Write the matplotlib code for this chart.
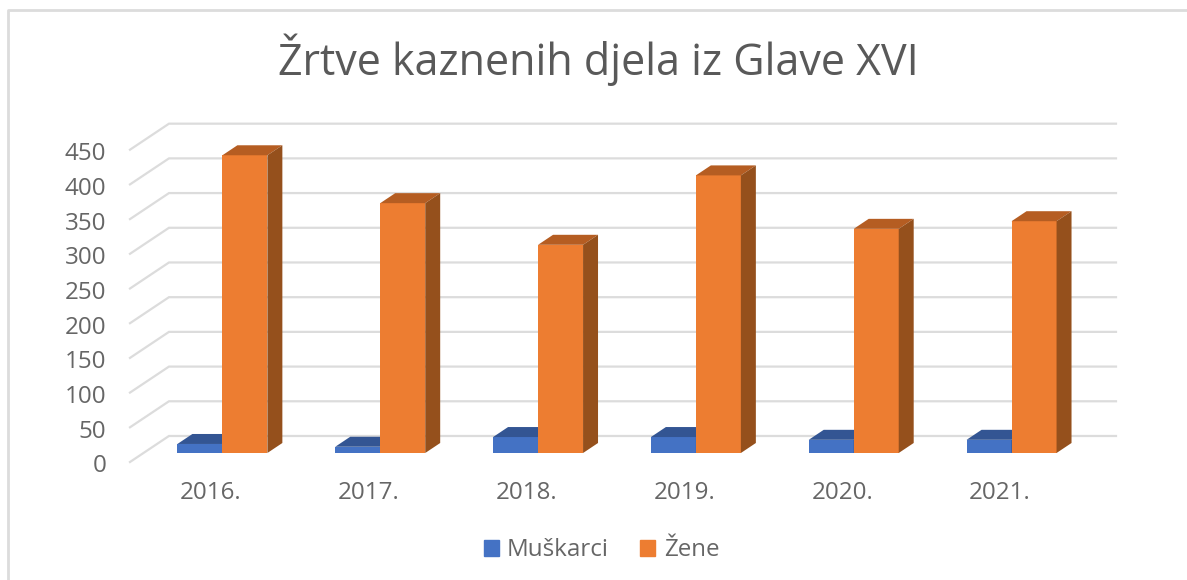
import matplotlib
matplotlib.use("Agg")
import matplotlib.pyplot as plt
from matplotlib.lines import Line2D
from matplotlib.patches import Patch
from matplotlib.transforms import ScaledTranslation

plt.rcParams['font.family'] = ['Open Sans', 'DejaVu Sans']

years = ["2016.", "2017.", "2018.", "2019.", "2020.", "2021."]
muskarci = [13, 9, 23, 23, 19, 19]
zene = [429, 360, 300, 400, 323, 334]
y_ticks = [0, 50, 100, 150, 200, 250, 300, 350, 400, 450]

W, H = 1187, 580
GREY = "#dcdcdc"
TEXT = "#666666"

# oblique depth of the floor, in data units
DX = 0.247
DY = 37.5
BAR_W = 0.285
D1 = 0.346
D2 = 0.73

def drawBar(ax, x, val, color, top, side):
    # x = left edge of the front face, before depth shift
    fx = x + D1 * DX
    fy = D1 * DY
    ox = (D2 - D1) * DX
    oy = (D2 - D1) * DY
    ax.bar(fx, val, BAR_W, bottom=fy, align='edge', color=color, zorder=3, clip_on=False)
    ax.fill([fx, fx + BAR_W, fx + BAR_W + ox, fx + ox],
            [fy + val, fy + val, fy + val + oy, fy + val + oy],
            color=top, lw=0, zorder=3, clip_on=False)
    ax.fill([fx + BAR_W, fx + BAR_W + ox, fx + BAR_W + ox, fx + BAR_W],
            [fy, fy + oy, fy + val + oy, fy + val],
            color=side, lw=0, zorder=3, clip_on=False)

fig = plt.figure(figsize=(W / 100, H / 100), dpi=100, facecolor="white")
ax = fig.add_axes([130 / W, (H - 462) / H, 947 / W, 312.3 / H])
ax.set_xlim(-0.5, 5.5)
ax.set_ylim(0, 450)

for v in y_ticks:
    ax.plot([-0.5, -0.5 + DX, 5.5 + DX], [v, v + DY, v + DY], color=GREY, lw=1.6,
            solid_joinstyle='miter', zorder=1, clip_on=False)

for i in range(len(years)):
    drawBar(ax, i - BAR_W, muskarci[i], "#4472C4", "#335593", "#2a4a80")
    drawBar(ax, i, zene[i], "#ED7D31", "#B55D22", "#95501C")

for s in ax.spines.values():
    s.set_visible(False)
ax.patch.set_visible(False)
ax.set_xticks(range(len(years)))
ax.set_xticklabels(years)
ax.set_yticks(y_ticks)
ax.tick_params(axis='both', length=0, labelsize=17.4, labelcolor=TEXT)
ax.tick_params(axis='x', pad=14)
ax.tick_params(axis='y', pad=17)

# small nudges so the labels land where the original has them
shift_y = ScaledTranslation(0, -1.5 / 100, fig.dpi_scale_trans)
for lab in ax.get_yticklabels():
    lab.set_transform(lab.get_transform() + shift_y)
shift_x = ScaledTranslation(2 / 100, 0, fig.dpi_scale_trans)
for lab in ax.get_xticklabels():
    lab.set_transform(lab.get_transform() + shift_x)

fig.text(598.5 / W, 1 - 60 / H, "Žrtve kaznenih djela iz Glave XVI", ha='center', va='center',
         fontsize=31, color="#595959")

# outer frame, only top and left are visible
fig.add_artist(Line2D([8 / W, 8 / W, 1], [0, 1 - 10 / H, 1 - 10 / H], color=GREY, lw=2))

handles = [Patch(color="#4472C4", label="Muškarci"), Patch(color="#ED7D31", label="Žene")]
fig.legend(handles=handles, loc='center', bbox_to_anchor=(601.5 / W, 1 - 550.5 / H), ncol=2,
           frameon=False, fontsize=17.4, labelcolor=TEXT, handlelength=0.62, handleheight=0.62,
           handletextpad=0.35, columnspacing=1.3, borderpad=0)

fig.savefig("out.png", dpi=100)
